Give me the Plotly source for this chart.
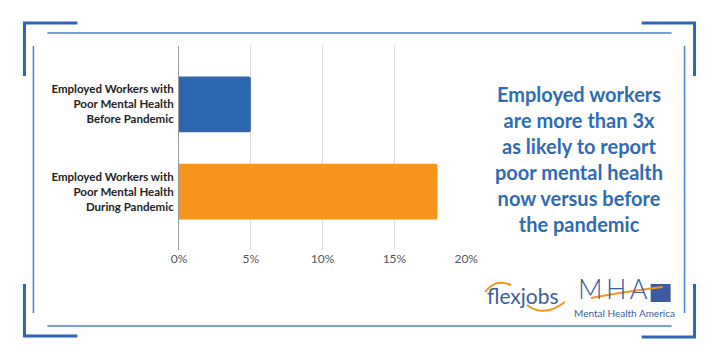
import plotly.graph_objects as go

# ---- data ----
categories = [
    "Employed Workers with<br>Poor Mental Health<br>Before Pandemic",
    "Employed Workers with<br>Poor Mental Health<br>During Pandemic",
]
values = [5, 18]
tick_vals = [0, 5, 10, 15, 20]
tick_text = ["0%", "5%", "10%", "15%", "20%"]
headline = ("Employed workers<br>are more than 3x<br>as likely to report<br>"
            "poor mental health<br>now versus before<br>the pandemic")

W, H = 720, 360
BLUE = "#2E67B1"
ORANGE = "#F7941D"
FRAME = "#4A7FCC"
CORNER = "#2E65B5"
LOGO = "#3B5DA0"

# horizontal correction measured from the rendering pipeline
X_OFF, X_SCALE = 7.5, 0.975


def px(x):
    return (x - X_OFF) / X_SCALE / W


def py(y):
    return 1 - y / H


fig = go.Figure(
    go.Bar(
        x=values,
        y=categories,
        orientation="h",
        marker=dict(color=[BLUE, ORANGE], line=dict(width=0)),
        width=0.64,
        hoverinfo="x+y",
    )
)

shapes = []
# thin frame lines
for (x0, y0, x1, y1) in [(47, 33, 673, 33), (47, 326, 673, 326),
                         (33, 46, 33, 313), (686, 46, 686, 313)]:
    shapes.append(dict(type="line", xref="paper", yref="paper",
                       x0=px(x0), y0=py(y0), x1=px(x1), y1=py(y1),
                       line=dict(color=FRAME, width=1.5)))
# thick corners
for pts in [[(24, 76), (24, 23), (77, 23)], [(643, 23), (696, 23), (696, 76)],
            [(24, 284), (24, 336), (77, 336)], [(643, 337), (696, 337), (696, 284)]]:
    path = "M " + " L ".join(f"{px(a):.5f},{py(b):.5f}" for a, b in pts)
    shapes.append(dict(type="path", xref="paper", yref="paper", path=path,
                       line=dict(color=CORNER, width=3)))


def arc(p0, c, p1, color, width=2):
    return dict(type="path", xref="paper", yref="paper",
                path=(f"M {px(p0[0]):.5f},{py(p0[1]):.5f} Q {px(c[0]):.5f},{py(c[1]):.5f} "
                      f"{px(p1[0]):.5f},{py(p1[1]):.5f}"),
                line=dict(color=color, width=width))


# flexjobs arcs
shapes.append(arc((486, 292), (496, 278), (512, 285), ORANGE))
shapes.append(arc((528, 305), (545, 318), (566, 302), ORANGE))
# MHA square + swoosh
shapes.append(dict(type="rect", xref="paper", yref="paper",
                   x0=px(652), y0=py(302), x1=px(672), y1=py(284),
                   fillcolor=LOGO, line=dict(width=0)))
shapes.append(arc((592, 298), (630, 291), (664, 287), ORANGE, 2))

annotations = [
    dict(text=headline, xref="paper", yref="paper", x=px(580), y=py(159),
         xanchor="center", yanchor="middle", showarrow=False, align="center",
         font=dict(family="Lato", size=20, color="#2F6BB3", weight="bold")),
    dict(text="flexjobs", xref="paper", yref="paper", x=px(524), y=py(295),
         xanchor="center", yanchor="middle", showarrow=False,
         font=dict(family="Lato", size=21, color=LOGO)),
    dict(text="M\u2009H\u2009A", xref="paper", yref="paper", x=px(577), y=py(307),
         xanchor="left", yanchor="bottom", showarrow=False,
         font=dict(family="Lato", size=27, color=LOGO, weight=300)),
    dict(text="Mental Health America", xref="paper", yref="paper", x=px(626), y=py(313),
         xanchor="center", yanchor="middle", showarrow=False,
         font=dict(family="Lato", size=10, color=LOGO)),
]

fig.update_layout(
    width=W, height=H,
    margin=dict(l=0, r=0, t=0, b=0),
    paper_bgcolor="white", plot_bgcolor="white",
    showlegend=False,
    barcornerradius=2,
    shapes=shapes,
    annotations=annotations,
    xaxis=dict(
        domain=[px(179), px(467)],
        range=[0, 20],
        tickvals=tick_vals, ticktext=tick_text,
        showgrid=True, gridcolor="#DDDDDD", gridwidth=1,
        zeroline=False, showline=False, ticks="",
        tickfont=dict(family="Lato", size=12, color="#555555"),
        fixedrange=True,
    ),
    yaxis=dict(
        domain=[py(250), py(46)],
        autorange=False, range=[1.67, -0.67],
        showline=True, linecolor="#999999", linewidth=1,
        showgrid=False, ticks="", ticklabelstandoff=2,
        tickfont=dict(family="Lato", size=11.5, color="#222222", weight="bold"),
        fixedrange=True,
    ),
)

fig.write_html(
    "out.html",
    config={"displayModeBar": False},
    post_script="document.body.style.margin='0';document.body.style.padding='0';"
                "document.documentElement.style.overflow='hidden';document.body.style.overflow='hidden';",
)
